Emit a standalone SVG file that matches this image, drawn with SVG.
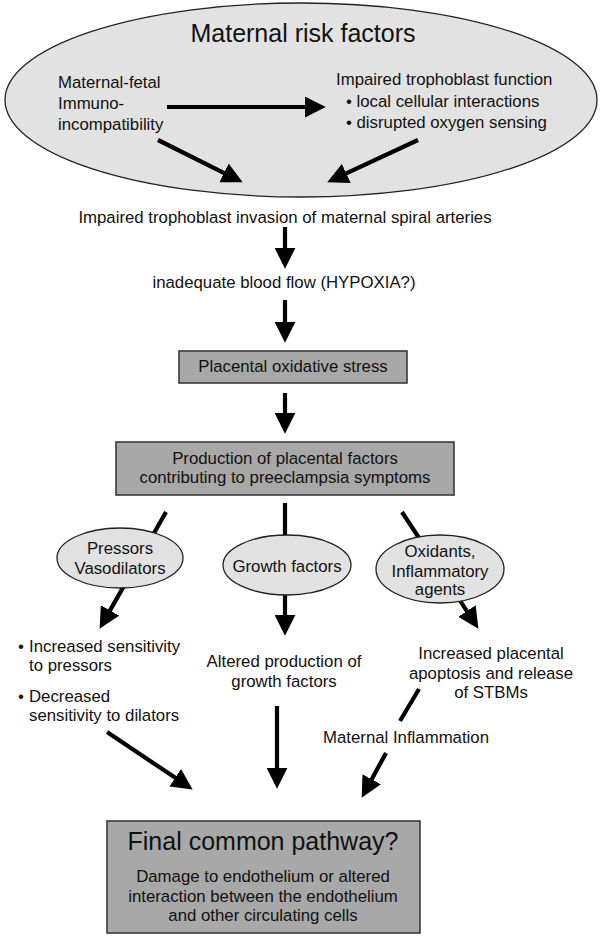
<svg xmlns="http://www.w3.org/2000/svg" width="600" height="937" viewBox="0 0 600 937">
<defs>
<style>
text{font-family:"Liberation Sans",Arial,Helvetica,sans-serif;font-size:16.8px;fill:#111}
.c{text-anchor:middle}
.big{font-size:25px}
.ell{fill:#e2e2e2;stroke:#222;stroke-width:1.3}
.box{fill:#a8a8a8;stroke:#3a3a3a;stroke-width:1.6}
.arr{stroke:#000;stroke-width:4.2;fill:none;marker-end:url(#ah)}
.ln{stroke:#000;stroke-width:4.2;fill:none}
</style>
<marker id="ah" viewBox="0 0 10 10" refX="2" refY="5" markerWidth="5" markerHeight="5" orient="auto" markerUnits="strokeWidth">
<path d="M0,0 L10,5 L0,10 z" fill="#000"/>
</marker>
</defs>
<rect width="600" height="937" fill="#fff"/>
<g id="risk">
<ellipse class="ell" cx="301" cy="100" rx="296" ry="97"/>
<text class="c big" x="303" y="42">Maternal risk factors</text>
<text x="58" y="88">Maternal-fetal</text>
<text x="58" y="109">Immuno-</text>
<text x="58" y="129.5">incompatibility</text>
<text x="336" y="85">Impaired trophoblast function</text>
<text x="346" y="107">• local cellular interactions</text>
<text x="346" y="128">• disrupted oxygen sensing</text>
</g>
<g id="connectors">
<line class="arr" x1="167" y1="107" x2="309" y2="107"/>
<line class="arr" x1="158" y1="140" x2="227.7" y2="174.8"/>
<line class="arr" x1="418" y1="140" x2="342.5" y2="175.2"/>
<line class="arr" x1="285" y1="227" x2="285" y2="252"/>
<line class="arr" x1="285" y1="300" x2="285" y2="326"/>
<line class="arr" x1="285" y1="393" x2="285" y2="417"/>
<line class="arr" x1="166" y1="512" x2="107.9" y2="614.1"/>
<line class="arr" x1="285" y1="503" x2="285" y2="619"/>
<line class="arr" x1="402" y1="512" x2="469.2" y2="614.6"/>
<line class="arr" x1="107" y1="732" x2="178.7" y2="780.1"/>
<line class="arr" x1="277" y1="706" x2="277" y2="772"/>
<line class="ln" x1="419" y1="689" x2="400" y2="721"/>
<line class="arr" x1="386" y1="753" x2="369.7" y2="783"/>
</g>
<g id="invasion">
<text class="c" x="285" y="223">Impaired trophoblast invasion of maternal spiral arteries</text>
</g>
<g id="bloodflow">
<text class="c" x="284" y="288">inadequate blood flow (HYPOXIA?)</text>
</g>
<g id="oxstress">
<rect class="box" x="179" y="351" width="228" height="32"/>
<text class="c" x="293" y="372">Placental oxidative stress</text>
</g>
<g id="production">
<rect class="box" x="116" y="442" width="338" height="53"/>
<text class="c" x="285" y="464">Production of placental factors</text>
<text class="c" x="285" y="483">contributing to preeclampsia symptoms</text>
</g>
<g id="pressors">
<ellipse class="ell" cx="120" cy="558" rx="63" ry="30"/>
<text class="c" x="120" y="554">Pressors</text>
<text class="c" x="120" y="574">Vasodilators</text>
</g>
<g id="growth">
<ellipse class="ell" cx="287" cy="565" rx="64" ry="30"/>
<text class="c" x="287" y="572">Growth factors</text>
</g>
<g id="oxidants">
<ellipse class="ell" cx="440" cy="569" rx="64" ry="34"/>
<text class="c" x="440" y="557">Oxidants,</text>
<text class="c" x="440" y="577">Inflammatory</text>
<text class="c" x="440" y="595">agents</text>
</g>
<g id="sensitivity">
<text x="18" y="652">•</text>
<text x="29" y="652">Increased sensitivity</text>
<text x="29" y="671">to pressors</text>
<text x="18" y="702">•</text>
<text x="29" y="702">Decreased</text>
<text x="29" y="721">sensitivity to dilators</text>
</g>
<g id="altered">
<text class="c" x="284" y="667">Altered production of</text>
<text class="c" x="284" y="687">growth factors</text>
</g>
<g id="apoptosis">
<text class="c" x="491" y="659">Increased placental</text>
<text class="c" x="491" y="679">apoptosis and release</text>
<text class="c" x="491" y="698">of STBMs</text>
</g>
<g id="inflammation">
<text class="c" x="406" y="743">Maternal Inflammation</text>
</g>
<g id="final">
<rect class="box" x="107" y="821" width="313" height="112"/>
<text class="c big" x="263" y="850">Final common pathway?</text>
<text class="c" x="263" y="882">Damage to endothelium or altered</text>
<text class="c" x="263" y="902">interaction between the endothelium</text>
<text class="c" x="263" y="921">and other circulating cells</text>
</g>
</svg>
